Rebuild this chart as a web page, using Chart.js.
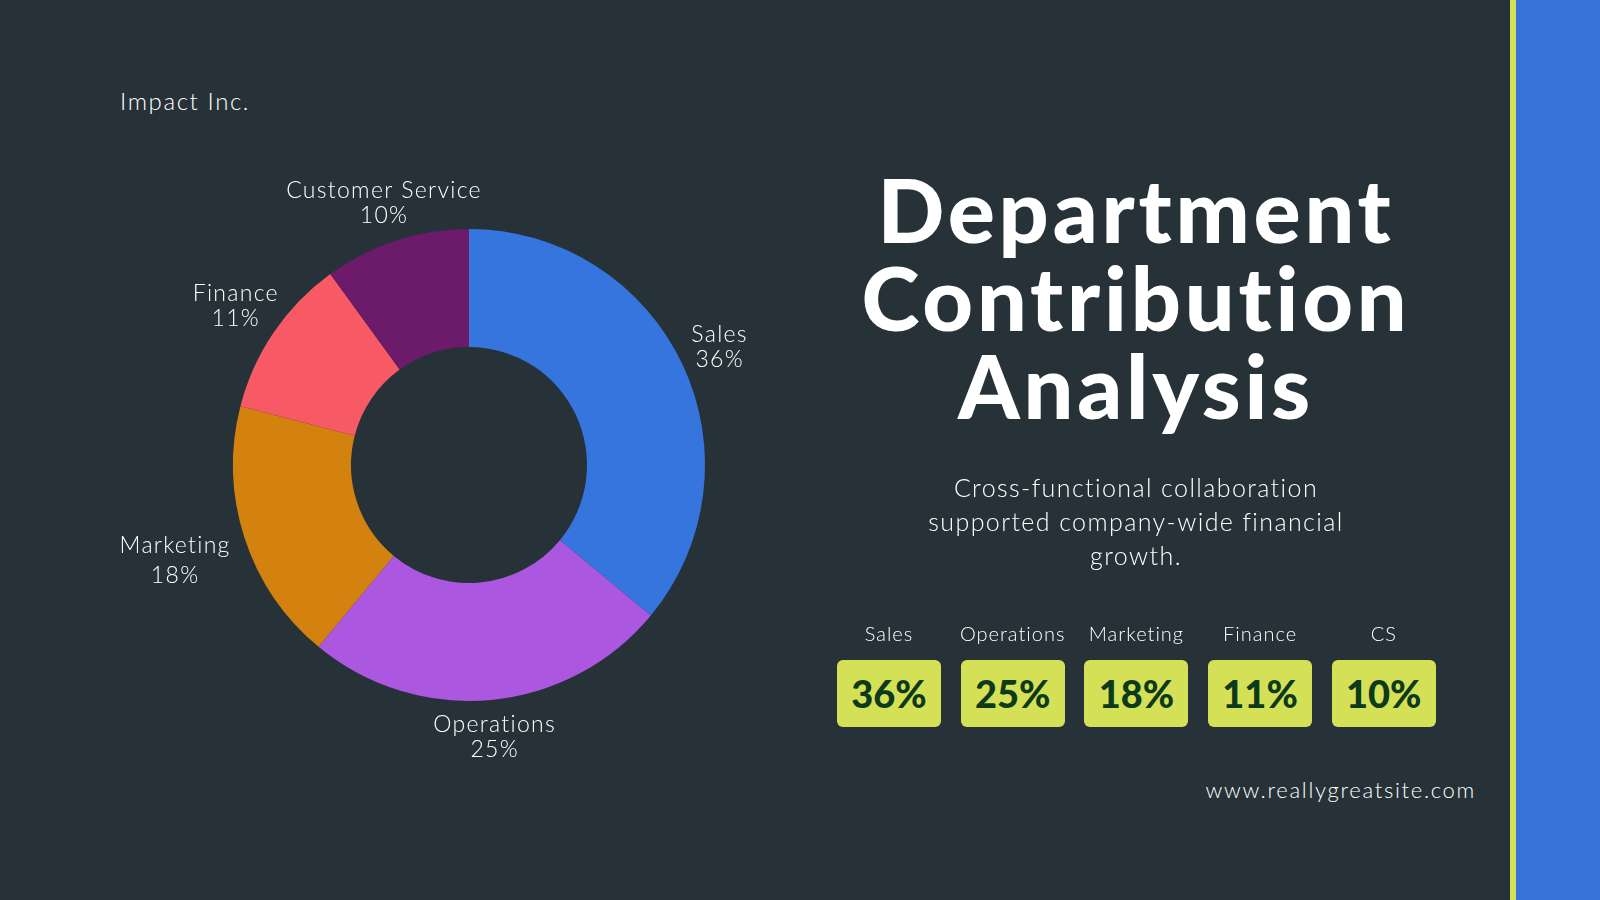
<!DOCTYPE html>
<html>
<head>
<meta charset="utf-8">
<script src="https://cdn.jsdelivr.net/npm/chart.js@4.4.1/dist/chart.umd.min.js"></script>
<style>
  html, body { margin:0; padding:0; }
  body { width:1600px; height:900px; background:#263238; position:relative; overflow:hidden; font-family:"Lato", sans-serif; color:#fff; }
  #chartWrap { position:absolute; left:0; top:0; width:900px; height:900px; }
  .stripeY { position:absolute; left:1510px; top:0; width:6px; height:900px; background:#D4E157; }
  .stripeB { position:absolute; left:1516px; top:0; width:84px; height:900px; background:#3674DC; }
  .brand { position:absolute; left:120px; top:86px; font-size:24px; font-weight:300; letter-spacing:1.6px; }
  .title { position:absolute; left:786px; width:700px; top:165px; text-align:center; font-weight:900; font-size:88px; line-height:88px; letter-spacing:3.8px; }
  .sub { position:absolute; left:836px; width:600px; top:470px; text-align:center; font-size:25px; line-height:34px; font-weight:300; letter-spacing:1.4px; }
  .badges { position:absolute; left:837px; top:618px; }
  .badge { position:absolute; width:104px; }
  .badge .lab { text-align:center; font-size:20px; height:30px; line-height:30px; white-space:nowrap; margin-left:-20px; width:144px; font-weight:300; letter-spacing:1px; }
  .badge .box { position:absolute; top:42px; width:104px; height:67px; background:#D4E157; border-radius:6px; color:#0E3A1C; font-weight:900; font-size:38px; line-height:67px; text-align:center; }
  .site { position:absolute; right:124px; top:776px; font-size:22px; font-weight:300; letter-spacing:1.7px; }
</style>
</head>
<body>
<div class="stripeY"></div>
<div class="stripeB"></div>
<div class="brand">Impact Inc.</div>
<div id="chartWrap"><canvas id="c" width="900" height="900"></canvas></div>
<div class="title">Department<br>Contribution<br>Analysis</div>
<div class="sub">Cross-functional collaboration<br>supported company-wide financial<br>growth.</div>
<div class="badges" id="badges"></div>
<div class="site">www.reallygreatsite.com</div>
<script>
const categories = ["Sales", "Operations", "Marketing", "Finance", "Customer Service"];
const shortLabels = ["Sales", "Operations", "Marketing", "Finance", "CS"];
const shares = [36, 25, 18, 11, 10];
const colors = ["#3675DD", "#AB57E0", "#D4820F", "#F75A64", "#6C1A6A"];

// badges built from the data arrays
const badgesEl = document.getElementById('badges');
shortLabels.forEach((lab, i) => {
  const b = document.createElement('div');
  b.className = 'badge';
  b.style.left = (i * 123.7) + 'px';
  b.innerHTML = '<div class="lab">' + lab + '</div><div class="box">' + shares[i] + '%</div>';
  badgesEl.appendChild(b);
});

// distance of label block centre beyond the outer radius, per slice index
const labelExtra = [41, 37, 73, 46, 39];

const outsideLabels = {
  id: 'outsideLabels',
  afterDraw(chart) {
    const ctx = chart.ctx;
    const meta = chart.getDatasetMeta(0);
    ctx.save();
    ctx.fillStyle = '#ffffff';
    ctx.textAlign = 'center';
    ctx.textBaseline = 'middle';
    ctx.font = '300 23px Lato';
    if ('letterSpacing' in ctx) ctx.letterSpacing = '1.3px';
    meta.data.forEach((arc, i) => {
      const p = arc.getProps(['x', 'y', 'startAngle', 'endAngle', 'outerRadius'], true);
      const mid = (p.startAngle + p.endAngle) / 2;
      const r = p.outerRadius + labelExtra[i];
      const x = p.x + Math.cos(mid) * r;
      const y = p.y + Math.sin(mid) * r;
      const gap = i === 2 ? 15 : 12.5;
      ctx.fillText(categories[i], x, y - gap);
      ctx.fillText(shares[i] + '%', x, y + gap);
    });
    ctx.restore();
  }
};

new Chart(document.getElementById('c'), {
  type: 'doughnut',
  data: {
    labels: categories,
    datasets: [{
      data: shares,
      backgroundColor: colors,
      borderWidth: 0,
      hoverOffset: 0
    }]
  },
  options: {
    responsive: false,
    animation: false,
    cutout: '50%',
    layout: { padding: { left: 233, right: 195, top: 229, bottom: 199 } },
    plugins: { legend: { display: false }, tooltip: { enabled: false } }
  },
  plugins: [outsideLabels]
});
</script>
</body>
</html>
